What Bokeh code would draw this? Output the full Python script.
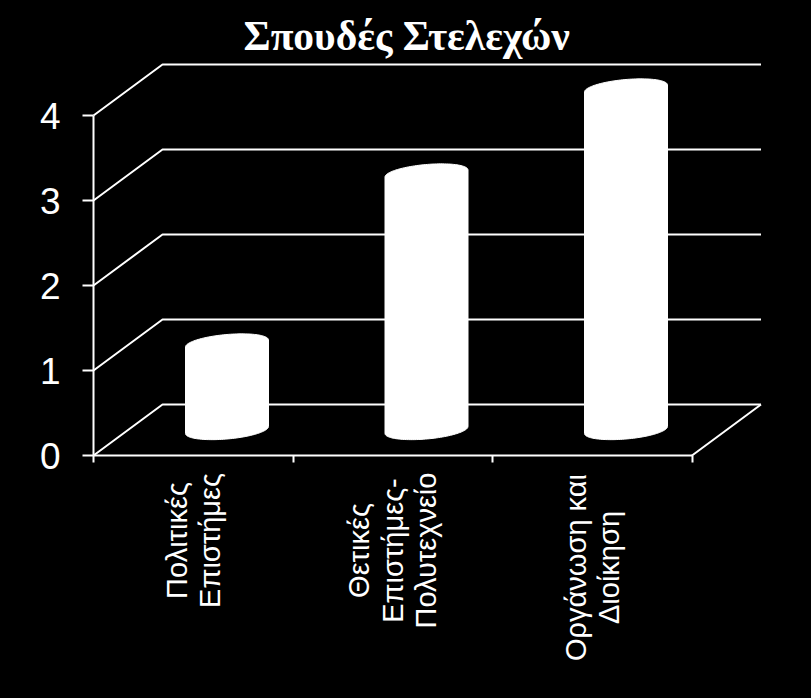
from bokeh.plotting import figure
from bokeh.models import Range1d, FixedTicker
from bokeh.core.properties import value
from bokeh.embed import file_html
from bokeh.resources import INLINE
import numpy as np

title = "Σπουδές Στελεχών"
categories = [["Πολιτικές", "Επιστήμες"], ["Θετικές", "Επιστήμες-", "Πολυτεχνείο"], ["Οργάνωση και", "Διοίκηση"]]
values = [1, 3, 4]
y_ticks = [0, 1, 2, 3, 4]

X_UNIT = 199.5   # px per category
Y_UNIT = 85.0    # px per value
DX, DY = 69 / X_UNIT, 51 / Y_UNIT   # depth of the 3D box

p = figure(width=811, height=698, output_backend="svg", toolbar_location=None,
           x_range=Range1d(-93 / X_UNIT, 718 / X_UNIT), y_range=Range1d(-243 / Y_UNIT, 395 / Y_UNIT),
           min_border_left=0, min_border_right=0, min_border_top=60, min_border_bottom=0,
           background_fill_color="black", border_fill_color="black", outline_line_color=None,
           styles={"background-color": "black"})
p.grid.visible = False

p.title.text = title
p.title.text_color = "white"
p.title.text_font = "Liberation Serif"
p.title.text_font_style = "bold"
p.title.text_font_size = "41.5px"
p.title.align = "left"
p.title.offset = 243
p.title.standoff = 4

ya = p.yaxis[0]
ya.fixed_location = 0
ya.bounds = (0, 4)
ya.ticker = FixedTicker(ticks=y_ticks)
ya.axis_line_color = "white"
ya.axis_line_width = 2
ya.major_tick_line_color = "white"
ya.major_tick_line_width = 2
ya.major_tick_out = 11
ya.major_tick_in = 0
ya.minor_tick_line_color = None
ya.major_label_text_color = "white"
ya.major_label_text_font = "Liberation Sans"
ya.major_label_text_font_size = "37px"
ya.major_label_standoff = 22

xa = p.xaxis[0]
xa.fixed_location = 0
xa.bounds = (0, 3)
xa.ticker = FixedTicker(ticks=[0, 1, 2, 3])
xa.axis_line_color = "white"
xa.axis_line_width = 2
xa.major_tick_line_color = "white"
xa.major_tick_line_width = 2
xa.major_tick_out = 7
xa.major_tick_in = 0
xa.minor_tick_line_color = None
xa.major_label_text_font_size = "0px"
xa.major_label_text_color = None

# 3D box: side wall gridlines, back wall gridlines, floor edge
xs = [[0, DX, 3 + DX] for _ in y_ticks] + [[3, 3 + DX]]
ys = [[v, v + DY, v + DY] for v in y_ticks] + [[0, DY]]
p.multi_line(xs, ys, line_color="white", line_width=2)

# Cylinders
hw = 41.5 / X_UNIT
skew = 3.5 / Y_UNIT
cap = 9 / Y_UNIT
lift = 1.5 / Y_UNIT
ta = np.linspace(0, np.pi, 60)
tb = np.linspace(np.pi, 2 * np.pi, 60)
bx, by = [], []
for i, v in enumerate(values):
    cx = i + 0.5 + (DX - 1.5 / X_UNIT) / 2
    y0, y1 = DY / 2, v + DY / 2 + lift
    bx.append(list(cx + hw * np.cos(ta)) + list(cx + hw * np.cos(tb)))
    by.append(list(y1 + skew * np.cos(ta) + cap * np.sin(ta)) + list(y0 + skew * np.cos(tb) + cap * np.sin(tb)))
p.patches(bx, by, fill_color="white", line_color="white", line_width=1)

# Rotated category labels, below the axis
block_y = [-85 / Y_UNIT, -95 / Y_UNIT, -112 / Y_UNIT]
line_gap = 33.5 / X_UNIT
tx, ty, tt = [], [], []
for i, lines in enumerate(categories):
    for j, line in enumerate(lines):
        tx.append(i + 0.5 + (j - (len(lines) - 1) / 2) * line_gap)
        ty.append(block_y[i])
        tt.append(line)
p.text(tx, ty, text=tt, angle=np.pi / 2, text_color="white", text_font=value("Liberation Sans"),
       text_font_size="29px", text_align="center", text_baseline="middle")

open("out.html", "w").write(file_html(p, INLINE))
